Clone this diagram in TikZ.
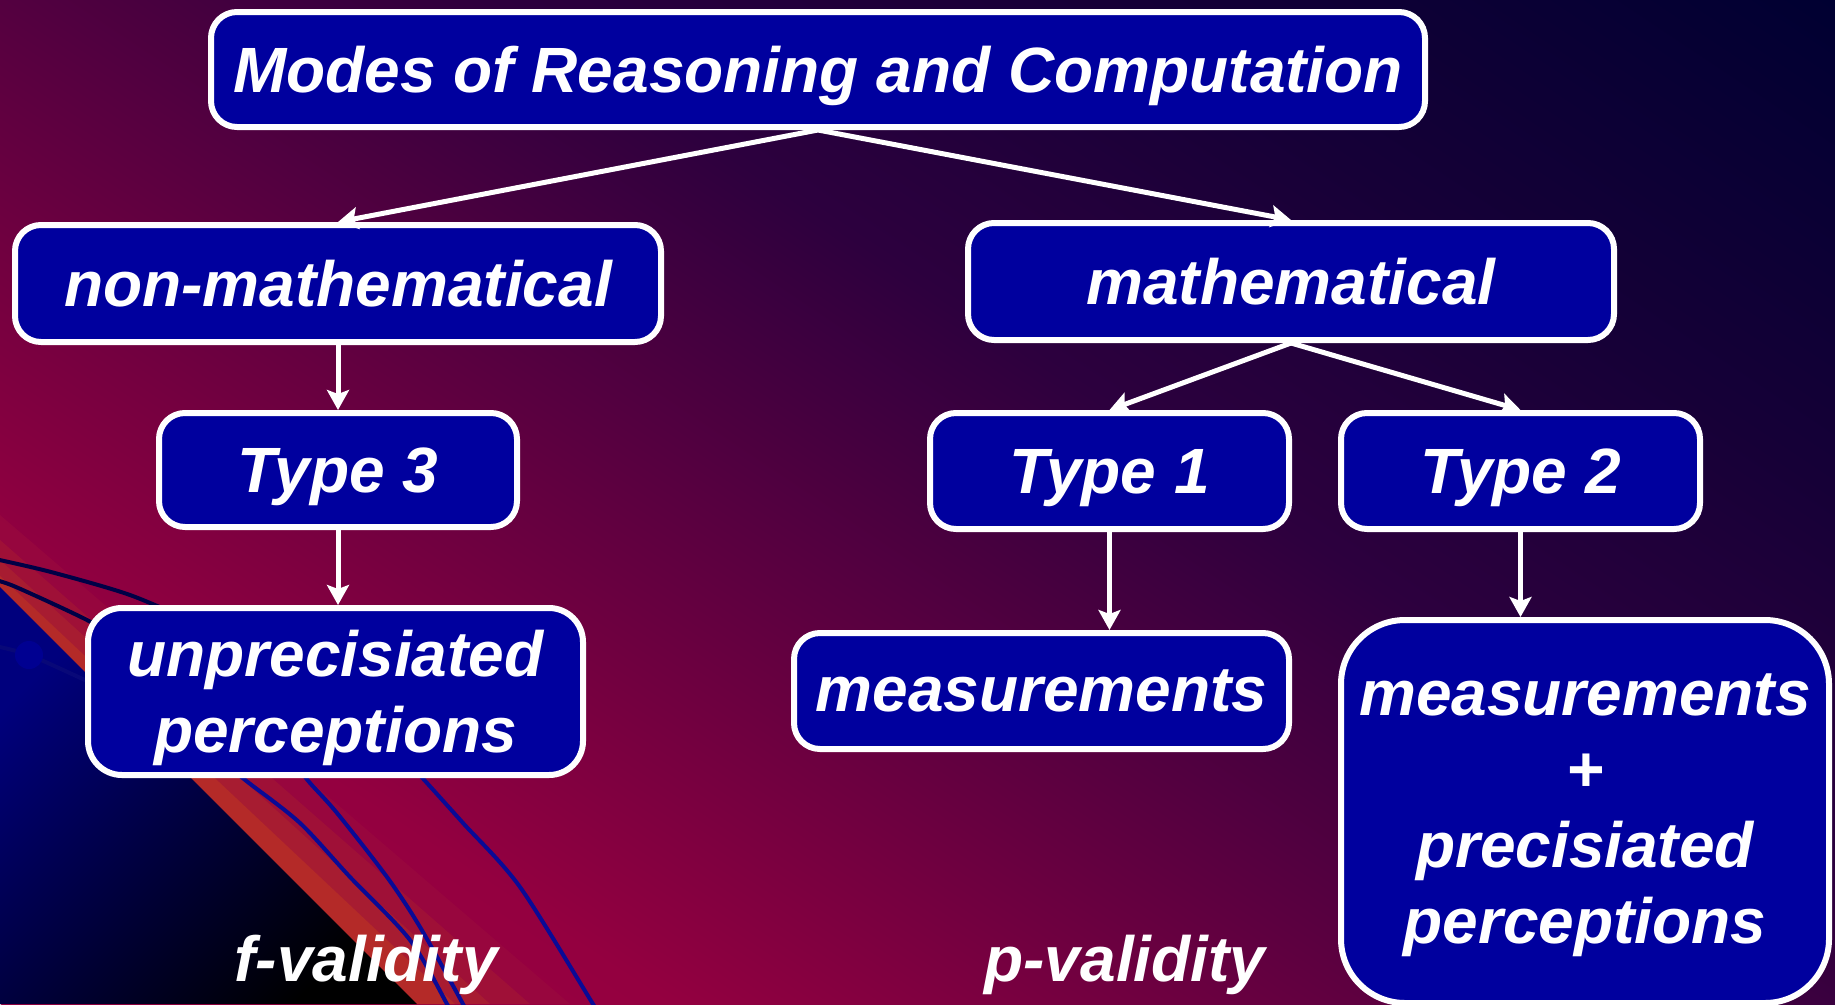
\documentclass[tikz,border=0pt]{standalone}
\usepackage{fontspec}
\newfontfamily\arialfont{Liberation Sans}
\usetikzlibrary{arrows.meta}
\definecolor{boxblue}{RGB}{0,0,158}
\definecolor{curveblue}{RGB}{10,10,150}
\definecolor{curvedark}{RGB}{0,0,70}
\definecolor{dotblue}{RGB}{0,0,145}
\definecolor{trinavy}{RGB}{0,0,125}
\definecolor{bandA}{RGB}{154,10,62}
\definecolor{bandB}{RGB}{163,21,53}
\definecolor{bandC}{RGB}{170,32,48}
\definecolor{bandD}{RGB}{180,42,40}
\pgfdeclarehorizontalshading{bgshade}{100bp}{rgb(0bp)=(0.63,0,0.25); rgb(25bp)=(0.63,0,0.25); rgb(35bp)=(0.58,0,0.25); rgb(47.5bp)=(0.33,0,0.25); rgb(55bp)=(0.176,0,0.243); rgb(64bp)=(0.086,0,0.216); rgb(75bp)=(0,0,0.196); rgb(100bp)=(0,0,0.196)}
\tikzset{
  box/.style={draw=white, line width=6pt, fill=boxblue, rounded corners=26pt,
    text=white, align=center, inner sep=0pt, text depth=0pt,
    font=\arialfont\bfseries\itshape\fontsize{64}{76}\selectfont},
  arr/.style={draw=white, line width=5pt, -{Stealth[length=20pt,width=22pt,inset=4pt]}},
  lbl/.style={text=white, anchor=base, inner sep=0pt,
    font=\arialfont\bfseries\itshape\fontsize{64}{76}\selectfont},
  bgcurve/.style={line width=4pt, line join=round},
}
\begin{document}
\begin{tikzpicture}[x=1pt,y=-1pt]
\useasboundingbox (0,0) rectangle (1835,1004);
\begin{scope}
  \clip (0,0) rectangle (1835,1004);
  \begin{scope}[transform canvas={rotate around={56.31:(917.5,502)}}]
    \shade[shading=bgshade] (-9,-548) rectangle (1844,1552);
  \end{scope}
  % orange bands along the diagonal
  \fill[bandA, opacity=0.6] (0,587) -- (417,1004) -- (570,1004) -- (0,515) -- cycle;
  \fill[bandB, opacity=0.7] (0,587) -- (417,1004) -- (530,1004) -- (0,540) -- cycle;
  \fill[bandC, opacity=0.8] (0,587) -- (417,1004) -- (490,1004) -- (0,560) -- cycle;
  \fill[bandD] (0,587) -- (417,1004) -- (455,1004) -- (0,576) -- cycle;
  % dark triangle
  \shade[left color=trinavy, middle color=black, right color=black, shading angle=45]
    (0,587) -- (417,1004) -- (0,1004) -- cycle;
  % curves
  \draw[bgcurve, curvedark] plot[smooth, tension=0.5] coordinates {(-5,559) (51,572) (130,595) (200,625)};
  \draw[bgcurve, curvedark] plot[smooth, tension=0.5] coordinates {(-5,580) (16,587) (87,620) (140,650)};
  \draw[bgcurve, curveblue!80!black] plot[smooth, tension=0.5] coordinates {(-5,646) (29,655) (85,680) (140,705)};
  \fill[dotblue] (29,655) circle (14);
  \draw[bgcurve, curveblue] plot[smooth, tension=0.5] coordinates {(230,768) (249,783) (300,823) (350,877) (410,940) (447,1004) (452,1015)};
  \draw[bgcurve, curveblue] plot[smooth, tension=0.5] coordinates {(300,770) (310,783) (337,813) (387,877) (420,927) (463,1004) (468,1015)};
  \draw[bgcurve, curveblue] plot[smooth, tension=0.5] coordinates {(415,770) (427,783) (463,823) (520,887) (593,1004) (600,1015)};
\end{scope}

% boxes
\node[box, minimum width=1214pt, minimum height=115pt] (title) at (818,69.5) {Modes of Reasoning and Computation};
\node[box, minimum width=646pt, minimum height=117pt] (nonmath) at (338,283.5) {non-mathematical};
\node[box, minimum width=646pt, minimum height=117pt] (math) at (1291,281.5) {mathematical};
\node[box, minimum width=358pt, minimum height=114pt] (t3) at (338,470) {Type 3};
\node[box, minimum width=359pt, minimum height=116pt] (t1) at (1109.5,471) {Type 1};
\node[box, minimum width=359pt, minimum height=116pt] (t2) at (1520.5,471) {Type 2};
\node[box, rounded corners=34pt, minimum width=495pt, minimum height=167pt] (unprec) at (335.5,691.5) {unprecisiated\\perceptions};
\node[box, minimum width=495pt, minimum height=116pt] (meas) at (1041.5,691) {measurements};
\node[box, rounded corners=64pt, minimum width=488pt, minimum height=383pt, text depth=6pt] (mp) at (1585,811.5) {measurements\\+\\precisiated\\perceptions};

% arrows
\draw[arr] (title.south) -- (nonmath.north);
\draw[arr] (title.south) -- (math.north);
\draw[arr] (nonmath.south) -- (t3.north);
\draw[arr] (t3.south) -- (t3.south |- unprec.north);
\draw[arr] (math.south) -- (t1.north);
\draw[arr] (math.south) -- (t2.north);
\draw[arr] (t1.south) -- (t1.south |- meas.north);
\draw[arr] (t2.south) -- (t2.south |- mp.north);

% validity labels
\node[lbl] (fval) at (366,981) {f-validity};
\node[lbl] (pval) at (1125,981) {p-validity};
\end{tikzpicture}
\end{document}
